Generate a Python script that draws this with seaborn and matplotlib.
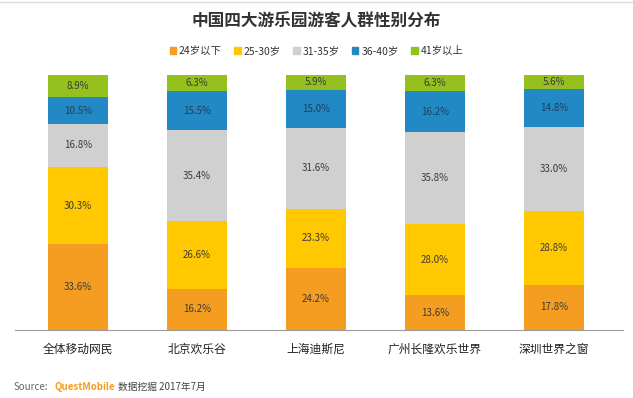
import numpy as np
import pandas as pd
import matplotlib
matplotlib.use("Agg")
import matplotlib.pyplot as plt
from matplotlib.patches import Patch
from matplotlib.lines import Line2D
import seaborn as sns

parks = ['全体移动网民', '北京欢乐谷', '上海迪斯尼', '广州长隆欢乐世界', '深圳世界之窗']
age_groups = ['24岁以下', '25-30岁', '31-35岁', '36-40岁', '41岁以上']
under24 = [33.6, 16.2, 24.2, 13.6, 17.8]
age25_30 = [30.3, 26.6, 23.3, 28.0, 28.8]
age31_35 = [16.8, 35.4, 31.6, 35.8, 33.0]
age36_40 = [10.5, 15.5, 15.0, 16.2, 14.8]
over41 = [8.9, 6.3, 5.9, 6.3, 5.6]

colors = ['#F59D20', '#FFC800', '#D0D0D0', '#2389C4', '#95C11F']

sns.set_theme(style='white')
plt.rcParams['font.family'] = ['Noto Sans CJK SC', 'DejaVu Sans']

series = np.array([under24, age25_30, age31_35, age36_40, over41])
cum = series.cumsum(axis=0)

fig = plt.figure(figsize=(6.33, 3.98), dpi=100)
ax = fig.add_axes([0.024, 0.171, 0.96, 0.641])

# stacked bars: draw cumulative totals from the top down
for i in range(len(age_groups) - 1, -1, -1):
    df = pd.DataFrame({'park': parks, 'val': cum[i]})
    sns.barplot(data=df, x='park', y='val', color=colors[i], width=0.5,
                saturation=1, ax=ax, linewidth=0)

# value labels
for i in range(len(age_groups)):
    for j in range(len(parks)):
        y = cum[i][j] - series[i][j] / 2
        ax.text(j, y, f'{series[i][j]:.1f}%', ha='center', va='center',
                fontsize=7, color='#3a3a3a' if i != 3 else '#1f3f5a')

ax.set_ylim(0, 100)
ax.set_xlim(-0.53, 4.58)
ax.set_xlabel('')
ax.set_ylabel('')
ax.set_yticks([])
ax.tick_params(axis='x', length=0, pad=9, labelsize=8.5, colors='#222222')
sns.despine(ax=ax, left=True, right=True, top=True)
ax.spines['bottom'].set_color('#999999')
ax.spines['bottom'].set_linewidth(0.8)

fig.text(0.5, 0.945, '中国四大游乐园游客人群性别分布', ha='center', va='center',
         fontsize=12, fontweight='bold', color='#333333')

handles = [Patch(color=c, label=l) for c, l in zip(colors, age_groups)]
fig.legend(handles=handles, loc='center', bbox_to_anchor=(0.5, 0.872), ncol=5,
           frameon=False, fontsize=7.5, handlelength=0.6, handleheight=0.6,
           handletextpad=0.3, columnspacing=1.2, labelcolor='#333333')

# source line, each piece placed right after the previous one
src = fig.text(0.021, 0.028, 'Source:', fontsize=7, color='#666666', va='center')
qm = fig.text(0, 0, 'QuestMobile', fontsize=7, color='#F59D20', fontweight='bold',
              va='center', transform=matplotlib.transforms.offset_copy(
                  fig.transFigure, fig=fig, x=0, y=0))
fig.canvas.draw()
r = fig.canvas.get_renderer()
bb = src.get_window_extent(r)
qm.set_position(((bb.x1 + 7) / fig.bbox.width, 0.028))
fig.canvas.draw()
bb2 = qm.get_window_extent(r)
fig.text((bb2.x1 + 3) / fig.bbox.width, 0.028, '数据挖掘 2017年7月', fontsize=7,
         color='#444444', va='center')

fig.add_artist(Line2D([0, 1], [0.995, 0.995], color='#dddddd', linewidth=1))

fig.savefig('out.png', dpi=100)
